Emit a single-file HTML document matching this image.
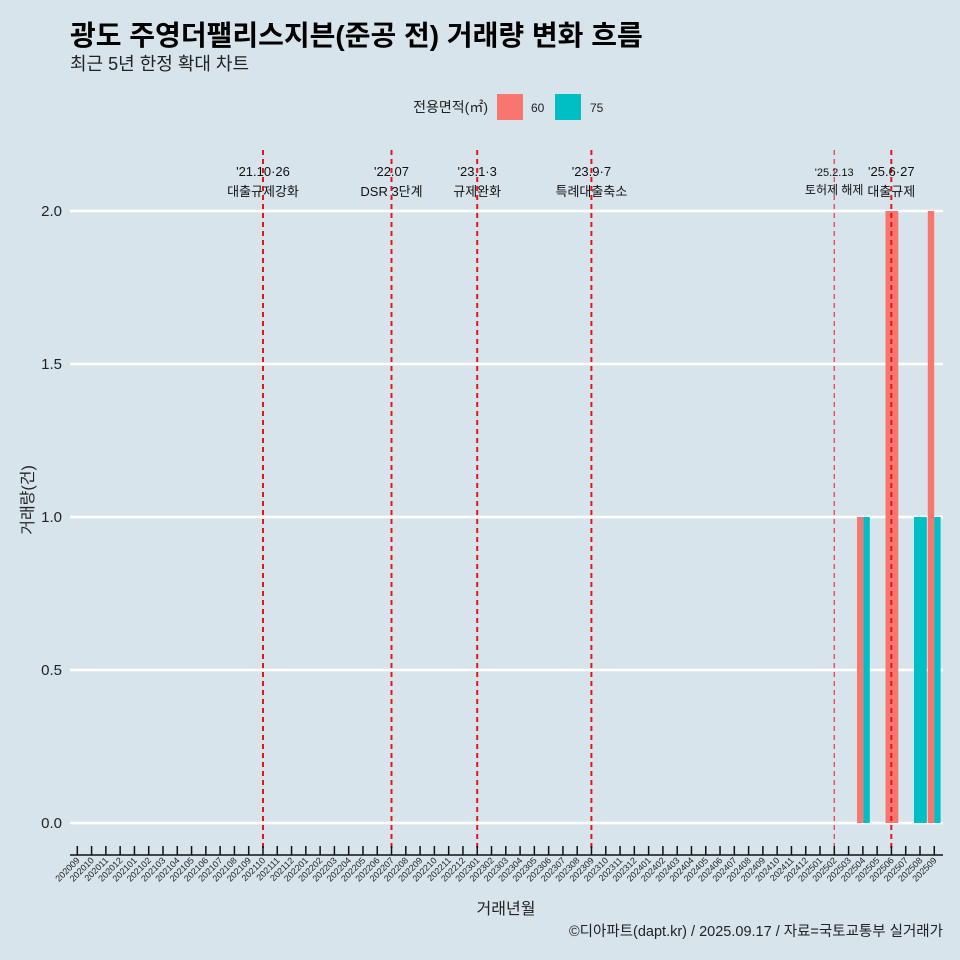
<!DOCTYPE html>
<html><head><meta charset="utf-8"><style>
body{margin:0;background:#d7e4eb;}
svg{display:block;font-family:"Liberation Sans","Noto Sans CJK KR",sans-serif;}
</style></head><body>
<svg width="960" height="960" xmlns="http://www.w3.org/2000/svg">
<rect width="960" height="960" fill="#d7e4eb"/>
<text x="70" y="45" font-size="28" font-weight="bold" fill="#000">광도 주영더팰리스지븐(준공 전) 거래량 변화 흐름</text>
<text x="70" y="70" font-size="18" fill="#222">최근 5년 한정 확대 차트</text>
<text x="488" y="112" font-size="14" text-anchor="end" fill="#222">전용면적(㎡)</text>
<rect x="497" y="94" width="26" height="26" fill="#f8766d"/>
<text x="531" y="112" font-size="12" fill="#222">60</text>
<rect x="555" y="94" width="26" height="26" fill="#00bfc4"/>
<text x="590" y="112" font-size="12" fill="#222">75</text>
<g stroke="#fff" stroke-width="2.5">
<line x1="70" x2="943" y1="211" y2="211"/><line x1="70" x2="943" y1="364" y2="364"/>
<line x1="70" x2="943" y1="517" y2="517"/><line x1="70" x2="943" y1="670" y2="670"/>
<line x1="70" x2="943" y1="823" y2="823"/>
</g>
<g font-size="15" text-anchor="end" fill="#222">
<text x="62" y="216">2.0</text><text x="62" y="369">1.5</text><text x="62" y="522">1.0</text><text x="62" y="675">0.5</text><text x="62" y="828">0.0</text>
</g>
<text transform="translate(33,500) rotate(-90)" font-size="16" text-anchor="middle" fill="#222">거래량(건)</text>
<text x="506" y="914" font-size="16" text-anchor="middle" fill="#222">거래년월</text>
<text x="943" y="936" font-size="14.5" text-anchor="end" fill="#222">©디아파트(dapt.kr) / 2025.09.17 / 자료=국토교통부 실거래가</text>
<g>
<rect x="857" y="517" width="6.4" height="306" fill="#f8766d"/>
<rect x="863.4" y="517" width="6.4" height="306" fill="#00bfc4"/>
<rect x="885.5" y="211" width="12.8" height="612" fill="#f8766d"/>
<rect x="914" y="517" width="12.8" height="306" fill="#00bfc4"/>
<rect x="927.8" y="211" width="6.4" height="612" fill="#f8766d"/>
<rect x="934.2" y="517" width="6.4" height="306" fill="#00bfc4"/>
</g>
<g stroke="#e8141c" stroke-dasharray="5,4" fill="none">
<line x1="263" x2="263" y1="150" y2="852" stroke-width="2"/>
<line x1="391.5" x2="391.5" y1="150" y2="852" stroke-width="2"/>
<line x1="477.2" x2="477.2" y1="150" y2="852" stroke-width="2"/>
<line x1="591.4" x2="591.4" y1="150" y2="852" stroke-width="2"/>
<line x1="834.2" x2="834.2" y1="150" y2="852" stroke-width="1"/>
<line x1="891.3" x2="891.3" y1="150" y2="852" stroke-width="2"/>
</g>
<g font-size="13" text-anchor="middle" fill="#111">
<text x="263" y="176">'21.10·26</text><text x="263" y="196">대출규제강화</text>
<text x="391.5" y="176">'22.07</text><text x="391.5" y="196">DSR 3단계</text>
<text x="477.2" y="176">'23.1·3</text><text x="477.2" y="196">규제완화</text>
<text x="591.4" y="176">'23.9·7</text><text x="591.4" y="196">특례대출축소</text>
<text x="834.2" y="176" font-size="11">'25.2.13</text><text x="834.2" y="194" font-size="12">토허제 해제</text>
<text x="891.3" y="176">'25.6·27</text><text x="891.3" y="196">대출규제</text>
</g>
<line x1="70" x2="943" y1="855" y2="855" stroke="#111" stroke-width="1.5"/>
<g id="ticks" stroke="#111" stroke-width="1.5"></g>
<g id="labs" font-size="9" text-anchor="end" fill="#222"></g>
</svg>
<script>
var t=document.getElementById('ticks'),l=document.getElementById('labs'),ns="http://www.w3.org/2000/svg";
for(var i=0;i<61;i++){var x=77.3+i*14.283;var m=(8+i)%12+1,y=2020+Math.floor((8+i)/12);
var ln=document.createElementNS(ns,'line');ln.setAttribute('x1',x);ln.setAttribute('x2',x);ln.setAttribute('y1',846);ln.setAttribute('y2',855);t.appendChild(ln);
var tx=document.createElementNS(ns,'text');tx.setAttribute('transform','translate('+(x+3)+',861) rotate(-45)');tx.textContent=y+(m<10?'0':'')+m;l.appendChild(tx);}
</script>
</body></html>
